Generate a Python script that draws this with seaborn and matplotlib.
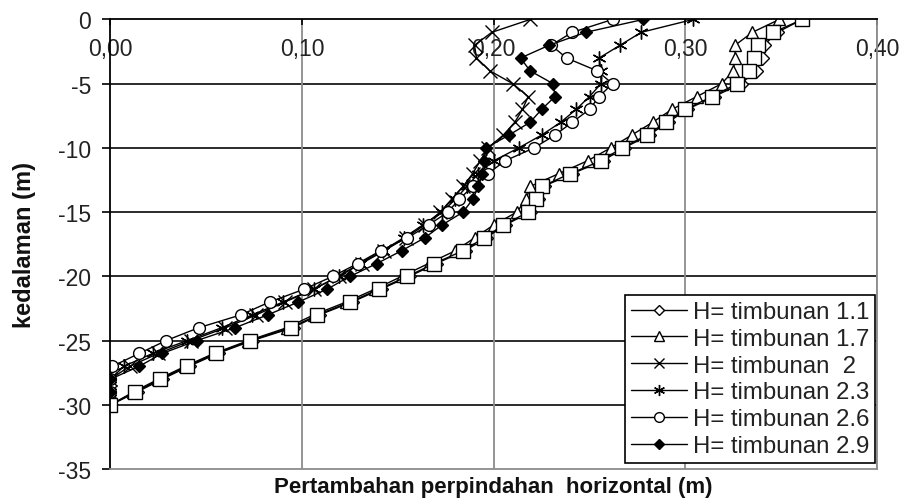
import matplotlib
matplotlib.use("Agg")
import matplotlib.pyplot as plt
from matplotlib.lines import Line2D
import seaborn as sns
import pandas as pd

# ---------------- data ----------------
depth = [0, -1, -2, -3, -4, -5, -6, -7, -8, -9, -10, -11, -12, -13, -14, -15,
         -16, -17, -18, -19, -20, -21, -22, -23, -24, -25, -26, -27, -28, -29, -30]

h11 = [0.361, 0.348, 0.341, 0.340, 0.337, 0.329, 0.315, 0.301, 0.291, 0.281, 0.268,
       0.257, 0.241, 0.226, 0.223, 0.219, 0.206, 0.196, 0.185, 0.170, 0.156, 0.141,
       0.126, 0.109, 0.095, 0.074, 0.056, 0.041, 0.027, 0.014, 0.000]
h17 = [0.349, 0.335, 0.326, 0.326, 0.325, 0.319, 0.306, 0.293, 0.283, 0.272, 0.261,
       0.249, 0.234, 0.219, 0.217, 0.212, 0.200, 0.190, 0.180, 0.166, 0.152, 0.138,
       0.123, 0.106, 0.092, 0.072, 0.054, 0.039, 0.025, 0.012, 0.000]
h20 = [0.219, 0.199, 0.190, 0.191, 0.198, 0.210, 0.218, 0.215, 0.211, 0.205, 0.197,
       0.193, 0.189, 0.184, 0.178, 0.172, 0.164, 0.154, 0.143, 0.131, 0.119, 0.106,
       0.091, 0.076, 0.060, 0.042, 0.025, 0.010, 0.000, 0.000, 0.000]
h23 = [0.304, 0.277, 0.266, 0.255, 0.256, 0.256, 0.250, 0.243, 0.235, 0.225, 0.213,
       0.200, 0.192, 0.186, 0.180, 0.173, 0.163, 0.153, 0.142, 0.130, 0.119, 0.106,
       0.090, 0.074, 0.058, 0.040, 0.022, 0.007, 0.000, 0.000, 0.000]
h26 = [0.262, 0.241, 0.230, 0.238, 0.254, 0.262, 0.255, 0.250, 0.241, 0.232, 0.221,
       0.206, 0.197, 0.189, 0.182, 0.176, 0.166, 0.155, 0.141, 0.129, 0.116, 0.101,
       0.083, 0.068, 0.046, 0.029, 0.015, 0.001, 0.000, 0.000, 0.000]
h29 = [0.278, 0.248, 0.229, 0.214, 0.219, 0.231, 0.232, 0.225, 0.219, 0.208, 0.196,
       0.195, 0.194, 0.192, 0.189, 0.184, 0.173, 0.164, 0.152, 0.139, 0.125, 0.113,
       0.098, 0.082, 0.065, 0.045, 0.027, 0.015, 0.000, 0.000, 0.000]
# unlabelled series drawn with open squares
hsq = [0.361, 0.346, 0.338, 0.336, 0.333, 0.327, 0.314, 0.300, 0.290, 0.280, 0.267,
       0.256, 0.240, 0.225, 0.222, 0.218, 0.205, 0.195, 0.184, 0.169, 0.155, 0.140,
       0.125, 0.108, 0.094, 0.073, 0.055, 0.040, 0.026, 0.013, 0.000]

labels = ["H= timbunan 1.1", "H= timbunan 1.7", "H= timbunan  2",
          "H= timbunan 2.3", "H= timbunan 2.6", "H= timbunan 2.9"]
x_ticks = [0.0, 0.1, 0.2, 0.3, 0.4]
x_ticklabels = ["0,00", "0,10", "0,20", "0,30", "0,40"]
y_ticks = [0, -5, -10, -15, -20, -25, -30, -35]

# ---------------- style ----------------
sns.set_style("white")
plt.rcParams["font.family"] = ["Liberation Sans", "DejaVu Sans"]

fig = plt.figure(figsize=(9.02, 5.02), dpi=100)
ax = fig.add_axes([0.1225, 0.0637, 0.8497, 0.8955])

styles = [
    dict(marker="D", markersize=7, markerfacecolor="white"),
    dict(marker="^", markersize=9, markerfacecolor="white"),
    dict(marker="x", markersize=10),
    dict(marker=(6, 2, 0), markersize=10),
    dict(marker="o", markersize=8.5, markerfacecolor="white"),
    dict(marker="D", markersize=6.5, markerfacecolor="black"),
]
series = [h11, h17, h20, h23, h26, h29]

for vals, st in zip(series, styles):
    df = pd.DataFrame({"x": vals, "y": depth})
    sns.lineplot(data=df, x="x", y="y", sort=False, estimator=None, ax=ax,
                 color="black", linewidth=1.0, markeredgecolor="black",
                 markeredgewidth=1.0, **st)

df = pd.DataFrame({"x": hsq, "y": depth})
sns.lineplot(data=df, x="x", y="y", sort=False, estimator=None, ax=ax,
             color="black", linewidth=1.0, marker="s", markersize=9.5,
             markerfacecolor="white", markeredgecolor="black", markeredgewidth=1.0)

ax.set_xlim(0, 0.4)
ax.set_ylim(-35, 0)

# grid: horizontal black, vertical grey
for yv in y_ticks[1:-1]:
    ax.axhline(yv, color="#1a1a1a", linewidth=1.3, zorder=0.5)
for xv in x_ticks[1:]:
    ax.axvline(xv, color="#8c8c8c", linewidth=1.3, zorder=0.5)

for side in ["left", "top"]:
    ax.spines[side].set_color("black")
    ax.spines[side].set_linewidth(1.3)
for side in ["right", "bottom"]:
    ax.spines[side].set_color("#8c8c8c")
    ax.spines[side].set_linewidth(1.3)

ax.xaxis.tick_top()
ax.set_xticks(x_ticks)
ax.set_xticklabels(x_ticklabels)
ax.tick_params(axis="x", direction="in", length=4, width=1.2, color="black",
               pad=-29, labelsize=16.5, labelcolor="#222222")
ax.set_yticks(y_ticks)
ax.set_yticklabels([str(v) for v in y_ticks])
ax.tick_params(axis="y", direction="out", length=6, width=1.2, color="black",
               pad=8, labelsize=16.5, labelcolor="#222222", left=True)

ax.xaxis.set_label_position("bottom")
ax.set_xlabel("Pertambahan perpindahan  horizontal (m)", fontsize=16,
              fontweight="bold", labelpad=5, color="#111111")
ax.set_ylabel("kedalaman (m)", fontsize=17, fontweight="bold", labelpad=16,
              color="#111111")

handles = []
leg_styles = [
    dict(marker="D", markersize=5.5, markerfacecolor="white"),
    dict(marker="^", markersize=7, markerfacecolor="white"),
    dict(marker="x", markersize=7),
    dict(marker=(6, 2, 0), markersize=8),
    dict(marker="o", markersize=7, markerfacecolor="white"),
    dict(marker="D", markersize=5.5, markerfacecolor="black"),
]
for lab, st in zip(labels, leg_styles):
    handles.append(Line2D([0], [0], color="black", linewidth=1.0,
                          markeredgecolor="black", markeredgewidth=1.0,
                          label=lab, **st))
leg = ax.legend(handles=handles, loc="lower right",
                bbox_to_anchor=(0.970, 0.0757), bbox_transform=fig.transFigure,
                borderaxespad=0, fontsize=17.3, frameon=True, fancybox=False,
                framealpha=1, edgecolor="black", handlelength=2.3,
                handletextpad=0.25, labelspacing=0.2, borderpad=0.25)
leg.get_frame().set_linewidth(1.2)
for t in leg.get_texts():
    t.set_color("#222222")

fig.savefig("out.png", dpi=100)
